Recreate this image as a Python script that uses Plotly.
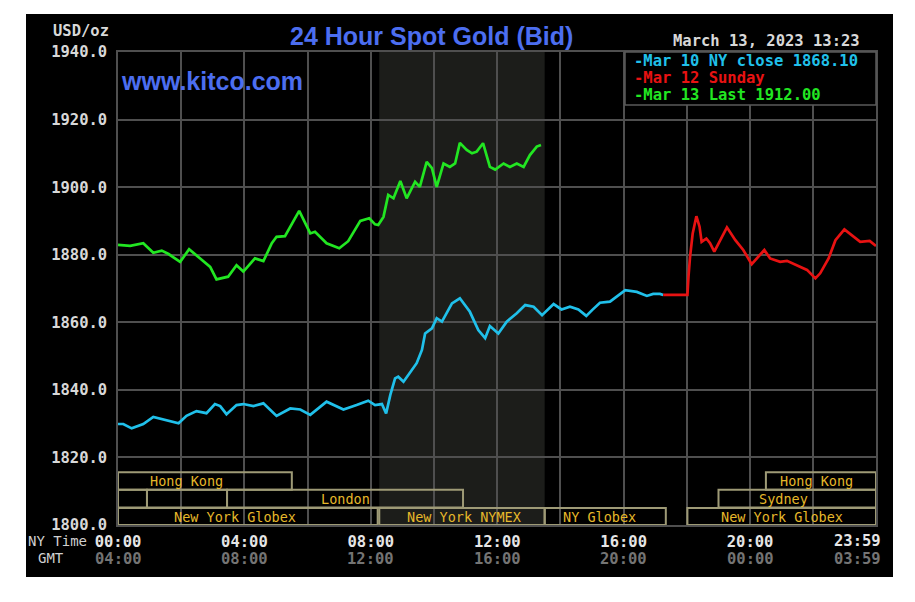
import plotly.graph_objects as go

# ---------------- data (minutes after NY midnight, USD/oz) ----------------
mar10_min = [0, 10, 26, 48, 67, 92, 115, 130, 149, 168, 184, 194, 206, 225, 238, 257, 276, 301,
             327, 346, 365, 396, 428, 453, 475, 488, 501, 509, 517, 526, 532, 542, 551, 567, 577,
             583, 596, 605, 615, 634, 649, 668, 684, 697, 706, 722, 738, 757, 773, 789, 805, 827,
             842, 858, 874, 889, 900, 915, 934, 950, 963, 985, 1004, 1016, 1029, 1035]
mar10_val = [1829.9, 1829.9, 1828.6, 1829.9, 1832.0, 1831.1, 1830.1, 1832.3, 1833.7, 1833.1, 1835.8,
             1835.2, 1832.8, 1835.5, 1835.8, 1835.2, 1836.0, 1832.3, 1834.5, 1834.2, 1832.6, 1836.5,
             1834.2, 1835.5, 1836.8, 1835.5, 1835.8, 1833.0, 1838.5, 1843.4, 1843.9, 1842.4, 1844.4,
             1847.9, 1851.8, 1856.7, 1858.2, 1861.2, 1860.2, 1865.6, 1867.1, 1863.1, 1857.7, 1855.3,
             1858.9, 1856.7, 1860.2, 1862.7, 1865.1, 1864.6, 1862.1, 1865.4, 1863.8, 1864.6, 1863.8,
             1861.9, 1863.6, 1865.8, 1866.1, 1868.1, 1869.5, 1869.0, 1867.8, 1868.4, 1868.4, 1868.1]

mar12_min = [1035, 1081, 1083, 1086, 1091, 1098, 1104, 1108, 1117, 1124, 1132, 1156, 1172, 1187,
             1203, 1213, 1227, 1238, 1257, 1270, 1289, 1308, 1324, 1333, 1349, 1362, 1379, 1393,
             1409, 1427, 1439]
mar12_val = [1868.1, 1868.1, 1873.5, 1879.4, 1886.3, 1891.4, 1888.3, 1883.8, 1884.8, 1883.4, 1880.9,
             1888.1, 1884.3, 1881.4, 1877.2, 1878.9, 1881.4, 1878.9, 1877.9, 1878.2, 1876.9, 1875.5,
             1873.0, 1874.5, 1878.9, 1884.3, 1887.5, 1885.8, 1883.8, 1884.1, 1882.6]

mar13_min = [0, 23, 48, 67, 83, 96, 118, 135, 156, 175, 187, 209, 225, 238, 260, 276, 292, 301, 317,
             344, 365, 374, 396, 420, 437, 460, 477, 488, 494, 504, 513, 523, 536, 548, 564, 573, 586,
             596, 605, 618, 630, 640, 649, 662, 672, 681, 693, 706, 716, 732, 744, 757, 770, 782, 795,
             803]
mar13_val = [1882.9, 1882.6, 1883.4, 1880.6, 1881.2, 1880.2, 1877.9, 1881.6, 1878.9, 1876.4, 1872.7,
             1873.5, 1876.9, 1875.0, 1878.9, 1878.1, 1883.4, 1885.3, 1885.5, 1893.0, 1886.3, 1886.8,
             1883.4, 1881.9, 1884.0, 1890.0, 1890.8, 1889.0, 1888.8, 1891.2, 1897.7, 1896.7, 1901.8,
             1896.7, 1901.6, 1900.1, 1907.5, 1905.6, 1900.1, 1907.0, 1906.0, 1907.0, 1913.1, 1911.0,
             1910.0, 1910.5, 1913.0, 1906.0, 1905.2, 1907.0, 1906.0, 1907.0, 1906.0, 1909.5, 1912.0,
             1912.5]

y_ticks = [1800, 1820, 1840, 1860, 1880, 1900, 1920, 1940]
x_grid = [0, 120, 240, 360, 480, 600, 720, 840, 960, 1080, 1200, 1320, 1439]
ny_labels = ["00:00", "", "04:00", "", "08:00", "", "12:00", "", "16:00", "", "20:00", "", "23:59"]
gmt_labels = ["04:00", "", "08:00", "", "12:00", "", "16:00", "", "20:00", "", "00:00", "", "03:59"]

legend_lines = ["-Mar 10 NY close 1868.10", "-Mar 12 Sunday", "-Mar 13 Last 1912.00"]

# market sessions: (row, start, end, label, label_start)
sessions = [
    (1, 0, 330, "Hong Kong", 57),
    (1, 1230, 1439, "Hong Kong", 1253),
    (2, 0, 55, "", 0),
    (2, 55, 207, "", 0),
    (2, 207, 655, "London", 382),
    (2, 1140, 1439, "Sydney", 1213),
    (3, 0, 493, "New York Globex", 103),
    (3, 496, 810, "New York NYMEX", 545),
    (3, 810, 1040, "NY Globex", 841),
    (3, 1081, 1439, "New York Globex", 1141),
]
row_bounds = {1: (1810.4, 1815.6), 2: (1805.2, 1810.4), 3: (1800.0, 1805.0)}
nymex_shade = (496, 810)

# ---------------- style ----------------
CYAN = "#20c0ea"
RED = "#e81212"
GREEN = "#22e622"
GRID = "#4f4f4f"
MONO = "DejaVu Sans Mono"
GOLD = "#e6b82a"
BOXLINE = "#9e9a76"
GMTCOL = "#747474"

fig = go.Figure()
fig.add_trace(go.Scatter(x=mar10_min, y=mar10_val, mode="lines",
                         line=dict(color=CYAN, width=2.7), hoverinfo="skip"))
fig.add_trace(go.Scatter(x=mar12_min, y=mar12_val, mode="lines",
                         line=dict(color=RED, width=2.7), hoverinfo="skip"))
fig.add_trace(go.Scatter(x=mar13_min, y=mar13_val, mode="lines",
                         line=dict(color=GREEN, width=2.7), hoverinfo="skip"))

L, R, T, B = 118, 39, 52, 77
W, H = 915, 602
pw, ph = W - L - R, H - T - B


def px(xp):
    return (xp - L) / pw


def py(yp):
    return (H - B - yp) / ph


shapes = []
# black card
shapes.append(dict(type="rect", xref="paper", yref="paper", x0=px(26), x1=px(893),
                   y0=py(577), y1=py(14), fillcolor="black", line=dict(width=0), layer="below"))
# NYMEX shade
shapes.append(dict(type="rect", xref="x", yref="paper", x0=nymex_shade[0], x1=nymex_shade[1],
                   y0=0, y1=1, fillcolor="#1c1d1a", line=dict(width=0), layer="below"))
# sessions
annotations = []
for row, s, e, lab, ls in sessions:
    y0, y1 = row_bounds[row]
    shapes.append(dict(type="rect", xref="x", yref="y", x0=s, x1=e, y0=y0, y1=y1,
                       line=dict(color=BOXLINE, width=2), fillcolor="rgba(0,0,0,0)", layer="above"))
    if lab:
        annotations.append(dict(x=ls, y=(y0 + y1) / 2, xref="x", yref="y", text=lab,
                                showarrow=False, xanchor="left", yanchor="middle",
                                font=dict(family=MONO, size=13.5, color=GOLD)))
# legend box
shapes.append(dict(type="rect", xref="paper", yref="paper", x0=px(625), x1=1.0,
                   y0=py(105), y1=1.0, fillcolor="black", line=dict(color="#5a5a5a", width=1.5),
                   layer="above"))
for txt, col, yy in zip(legend_lines, [CYAN, RED, GREEN], [61, 78, 95]):
    annotations.append(dict(x=px(632), y=py(yy), xref="paper", yref="paper", text="<b>" + txt + "</b>",
                            showarrow=False, xanchor="left", yanchor="middle",
                            font=dict(family=MONO, size=15.5, color=col)))

# GMT row under the NY-time tick labels
for xv, g in zip(x_grid[:-1], gmt_labels[:-1]):
    if g:
        annotations.append(dict(x=xv, y=py(559), xref="x", yref="paper", text="<b>" + g + "</b>",
                                showarrow=False, xanchor="center", yanchor="middle",
                                font=dict(family=MONO, size=15.5, color=GMTCOL)))

annotations += [
    dict(x=px(431), y=py(36), xref="paper", yref="paper", text="<b>24 Hour Spot Gold (Bid)</b>",
         showarrow=False, xanchor="center", yanchor="middle",
         font=dict(family="Liberation Sans", size=25, color="#4c6ef0")),
    dict(x=px(119), y=py(81), xref="paper", yref="paper", text="<b>www.kitco.com</b>",
         showarrow=False, xanchor="left", yanchor="middle",
         font=dict(family="Liberation Sans", size=25, color="#4c6ef0")),
    dict(x=px(862), y=py(41), xref="paper", yref="paper", text="<b>March 13, 2023 13:23</b>",
         showarrow=False, xanchor="right", yanchor="middle",
         font=dict(family=MONO, size=15.5, color="#d8d8d8")),
    dict(x=px(111), y=py(31), xref="paper", yref="paper", text="<b>USD/oz</b>",
         showarrow=False, xanchor="right", yanchor="middle",
         font=dict(family=MONO, size=15.5, color="#d8d8d8")),
    dict(x=px(89), y=py(541), xref="paper", yref="paper", text="NY Time",
         showarrow=False, xanchor="right", yanchor="middle",
         font=dict(family=MONO, size=14, color="#d0d0d0")),
    dict(x=px(66), y=py(558), xref="paper", yref="paper", text="GMT",
         showarrow=False, xanchor="right", yanchor="middle",
         font=dict(family=MONO, size=14, color="#d0d0d0")),
    # last tick labels (shifted left like the original)
    dict(x=x_grid[-1], y=py(541), xref="x", yref="paper", text="<b>" + ny_labels[-1] + "</b>",
         showarrow=False, xanchor="right", yanchor="middle", xshift=7,
         font=dict(family=MONO, size=15.5, color="#e6e6e6")),
    dict(x=x_grid[-1], y=py(559), xref="x", yref="paper", text="<b>" + gmt_labels[-1] + "</b>",
         showarrow=False, xanchor="right", yanchor="middle", xshift=7,
         font=dict(family=MONO, size=15.5, color=GMTCOL)),
]

ticktext = ["<b>%s</b>" % a if a else "" for a in ny_labels[:-1]] + [""]

fig.update_layout(
    width=W, height=H,
    margin=dict(l=L, r=R, t=T, b=B, pad=0),
    paper_bgcolor="white", plot_bgcolor="rgba(0,0,0,0)",
    showlegend=False,
    shapes=shapes, annotations=annotations,
    xaxis=dict(range=[0, 1439], tickvals=x_grid, ticktext=ticktext, showgrid=True,
               gridcolor=GRID, gridwidth=1.5, zeroline=False, showline=True, linecolor=GRID,
               linewidth=1.5, mirror=True, ticks="", ticklabelstandoff=2,
               tickfont=dict(family=MONO, size=15.5, color="#e6e6e6")),
    yaxis=dict(range=[1800, 1940], tickvals=y_ticks, ticktext=["<b>%.1f</b>" % v for v in y_ticks],
               showgrid=True, gridcolor=GRID, gridwidth=1.5, zeroline=False, showline=True,
               linecolor=GRID, linewidth=1.5, mirror=True, ticks="", ticklabelstandoff=6,
               tickfont=dict(family=MONO, size=15.5, color="#d8d8d8")),
)

fig.write_html("out.html")
